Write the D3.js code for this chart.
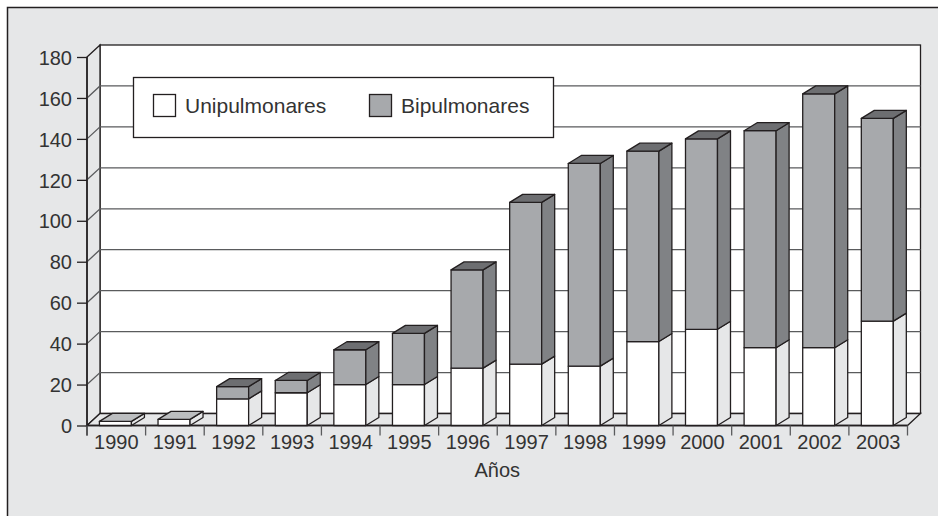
<!DOCTYPE html>
<html>
<head>
<meta charset="utf-8">
<script src="https://cdn.jsdelivr.net/npm/d3@7"></script>
<style>
body { margin: 0; background: #fff; }
text { font-family: "Liberation Sans", Arial, sans-serif; fill: #333; }
</style>
</head>
<body>
<script>
// Data
var years = ["1990","1991","1992","1993","1994","1995","1996","1997","1998","1999","2000","2001","2002","2003"];
var unipulmonares = [2, 3, 13, 16, 20, 20, 28, 30, 29, 41, 47, 38, 38, 51];
var bipulmonares  = [0, 0, 6, 6, 17, 25, 48, 79, 99, 93, 93, 106, 124, 99];
var yTicks = [0, 20, 40, 60, 80, 100, 120, 140, 160, 180];
var seriesNames = ["Unipulmonares", "Bipulmonares"];

var W = 938, H = 516;
var ink = "#231f20", gridCol = "#5a5b5d";

// 3D depth offsets
var wallDx = 13, wallDy = -12;
var barDx = 13, barDy = -8;

var svg = d3.select("body").append("svg")
  .attr("width", W)
  .attr("height", H);

// outer frame
svg.append("rect")
  .attr("x", 7.5).attr("y", 7.5)
  .attr("width", W).attr("height", H)
  .attr("fill", "#e6e7e8")
  .attr("stroke", ink)
  .attr("stroke-width", 1.5);

var x = d3.scaleBand().domain(years).range([87, 907.5]).padding(0);
var y = d3.scaleLinear().domain([0, 180]).range([425.5, 57]);

var x0 = x.range()[0], x1 = x.range()[1];
var y0 = y(0), yTop = y(180);

function pts(a) { return a.map(function(p){ return p.join(","); }).join(" "); }

// back wall
svg.append("rect")
  .attr("x", x0 + wallDx).attr("y", yTop + wallDy)
  .attr("width", x1 - x0).attr("height", y0 - yTop)
  .attr("fill", "#fff")
  .attr("stroke", ink).attr("stroke-width", 1.3);

// left wall
svg.append("polygon")
  .attr("points", pts([[x0, yTop], [x0 + wallDx, yTop + wallDy], [x0 + wallDx, y0 + wallDy], [x0, y0]]))
  .attr("fill", "#e6e7e8")
  .attr("stroke", ink).attr("stroke-width", 1.3);

// floor
svg.append("polygon")
  .attr("points", pts([[x0, y0], [x0 + wallDx, y0 + wallDy], [x1 + wallDx, y0 + wallDy], [x1, y0]]))
  .attr("fill", "#e6e7e8")
  .attr("stroke", ink).attr("stroke-width", 1.3);

// gridlines
var grid = svg.append("g").attr("class", "grid");
yTicks.filter(function(v){ return v > 0 && v < 180; }).forEach(function(v) {
  grid.append("polyline")
    .attr("points", pts([[x0, y(v)], [x0 + wallDx, y(v) + wallDy], [x1 + wallDx, y(v) + wallDy]]))
    .attr("fill", "none")
    .attr("stroke", gridCol).attr("stroke-width", 1.3);
});

// y axis
var yAxis = d3.axisLeft(y).tickValues(yTicks).tickSize(10).tickPadding(5);
var gy = svg.append("g")
  .attr("transform", "translate(" + x0 + ",0)")
  .call(yAxis);
gy.select(".domain").remove();
gy.selectAll(".tick line").attr("stroke", ink).attr("stroke-width", 1.3);
gy.selectAll(".tick text")
  .style("font-size", "20px")
  .attr("fill", "#333")
  .attr("dy", "0.36em");

// front axis lines
svg.append("line")
  .attr("x1", x0).attr("x2", x0)
  .attr("y1", yTop).attr("y2", y0 + 10)
  .attr("stroke", ink).attr("stroke-width", 1.5);
svg.append("line")
  .attr("x1", x0).attr("x2", x1)
  .attr("y1", y0).attr("y2", y0)
  .attr("stroke", ink).attr("stroke-width", 1.5);

// x boundary ticks
var bounds = years.map(function(d){ return x(d); }).concat([x1]);
svg.append("g").selectAll("line")
  .data(bounds)
  .enter().append("line")
  .attr("x1", function(d){ return d; }).attr("x2", function(d){ return d; })
  .attr("y1", y0).attr("y2", y0 + 10)
  .attr("stroke", gridCol).attr("stroke-width", 1.3);

// x labels
var xAxis = d3.axisBottom(x).tickSize(0).tickPadding(8);
var gx = svg.append("g")
  .attr("transform", "translate(0," + y0 + ")")
  .call(xAxis);
gx.select(".domain").remove();
gx.selectAll(".tick text")
  .style("font-size", "20px")
  .attr("fill", "#333")
  .attr("dy", "0.78em");

svg.append("text")
  .attr("x", (x0 + x1) / 2)
  .attr("y", 477)
  .attr("text-anchor", "middle")
  .style("font-size", "20px")
  .text("Años");

// bars
var bw = x.bandwidth() * 0.546;
var bOff = x.bandwidth() * 0.212;

var styles = [
  { front: "#ffffff", side: "#e6e7e8", top: "#bcbec0" },
  { front: "#a7a9ac", side: "#808285", top: "#6d6e71" }
];

var bars = svg.append("g").attr("class", "bars");

years.forEach(function(yr, i) {
  var vals = [unipulmonares[i], bipulmonares[i]];
  var base = 0;
  var lastIdx = vals[1] > 0 ? 1 : 0;
  vals.forEach(function(v, s) {
    if (v <= 0) return;
    var xl = x(yr) + bOff, xr = xl + bw;
    var yb = y(base), yt = y(base + v);
    var g = bars.append("g");
    // front
    g.append("polygon")
      .attr("points", pts([[xl, yb], [xl, yt], [xr, yt], [xr, yb]]))
      .attr("fill", styles[s].front)
      .attr("stroke", ink).attr("stroke-width", 1.3).attr("stroke-linejoin", "round");
    // side
    g.append("polygon")
      .attr("points", pts([[xr, yb], [xr, yt], [xr + barDx, yt + barDy], [xr + barDx, yb + barDy]]))
      .attr("fill", styles[s].side)
      .attr("stroke", ink).attr("stroke-width", 1.3).attr("stroke-linejoin", "round");
    // top
    if (s === lastIdx) {
      g.append("polygon")
        .attr("points", pts([[xl, yt], [xl + barDx, yt + barDy], [xr + barDx, yt + barDy], [xr, yt]]))
        .attr("fill", styles[s].top)
        .attr("stroke", ink).attr("stroke-width", 1.3).attr("stroke-linejoin", "round");
    }
    base += v;
  });
});

// legend
var legend = svg.append("g").attr("class", "legend");
legend.append("rect")
  .attr("x", 133.5).attr("y", 77.5)
  .attr("width", 420).attr("height", 60)
  .attr("fill", "#fff")
  .attr("stroke", ink).attr("stroke-width", 1.3);

var legX = [153, 369];
seriesNames.forEach(function(name, i) {
  legend.append("rect")
    .attr("x", legX[i] + 0.5).attr("y", 94.5)
    .attr("width", 22).attr("height", 22)
    .attr("fill", styles[i].front)
    .attr("stroke", ink).attr("stroke-width", 1.3);
  legend.append("text")
    .attr("x", legX[i] + 32)
    .attr("y", 113)
    .style("font-size", "21px")
    .text(name);
});
</script>
</body>
</html>
